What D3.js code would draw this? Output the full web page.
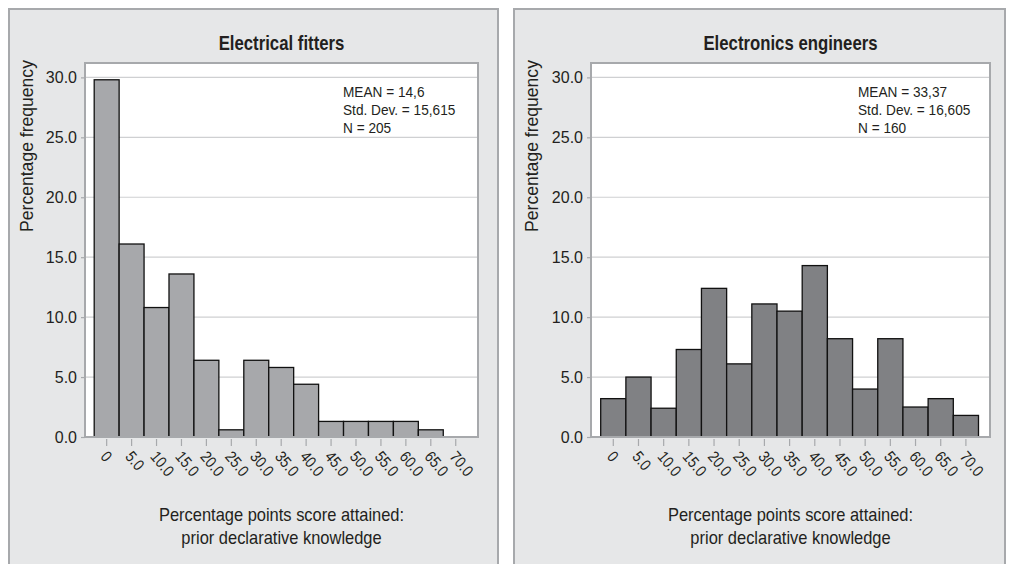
<!DOCTYPE html>
<html>
<head>
<meta charset="utf-8">
<script src="https://cdn.jsdelivr.net/npm/d3@7"></script>
<style>
  html, body { margin: 0; padding: 0; background: #fff; }
  svg { display: block; }
</style>
</head>
<body>
<div id="chart"></div>
<script>
// bins of the score (percentage points)
const binLabels = ["0", "5.0", "10.0", "15.0", "20.0", "25.0", "30.0", "35.0",
  "40.0", "45.0", "50.0", "55.0", "60.0", "65.0", "70.0"];

// percentage frequency per bin
const fittersPct = [29.8, 16.1, 10.8, 13.6, 6.4, 0.6, 6.4, 5.8, 4.4, 1.3, 1.3, 1.3, 1.3, 0.6, 0];
const engineersPct = [3.2, 5.0, 2.4, 7.3, 12.4, 6.1, 11.1, 10.5, 14.3, 8.2, 4.0, 8.2, 2.5, 3.2, 1.8];

const fittersStats = ["MEAN = 14,6", "Std. Dev. = 15,615", "N = 205"];
const engineersStats = ["MEAN = 33,37", "Std. Dev. = 16,605", "N = 160"];

const yTicks = [0, 5, 10, 15, 20, 25, 30];

const W = 1013, H = 564;
const fontFam = "'Liberation Sans', Arial, sans-serif";
const ink = "#231f20";

const svg = d3.select("#chart").append("svg")
  .attr("width", W).attr("height", H)
  .style("font-family", fontFam);

// no condensed font available, so squeeze the glyphs horizontally
function narrowText(g, x, y, str, size, sx, opts = {}) {
  return g.append("text")
    .attr("transform", `translate(${x},${y}) ${opts.rotate ? `rotate(${opts.rotate})` : ""} scale(${sx},1)`)
    .attr("text-anchor", opts.anchor || "start")
    .attr("font-size", size)
    .attr("font-weight", opts.weight || "normal")
    .attr("fill", ink)
    .text(str);
}

function drawPanel(opts) {
  const { box, plot, bandRange, title, values, stats, fill } = opts;
  const g = svg.append("g");

  // panel background
  g.append("rect")
    .attr("x", box.x).attr("y", box.y)
    .attr("width", box.w).attr("height", box.h)
    .attr("fill", "#e6e7e8")
    .attr("stroke", "#a7a9ac")
    .attr("stroke-width", 2);

  // plot area
  g.append("rect")
    .attr("x", plot.x0).attr("y", plot.y0)
    .attr("width", plot.x1 - plot.x0).attr("height", plot.y1 - plot.y0)
    .attr("fill", "#fff");

  const x = d3.scaleBand().domain(binLabels).range(bandRange).padding(0);
  const y = d3.scaleLinear().domain([0, 31.2]).range([plot.y1, plot.y0]);

  // grid
  g.append("g")
    .selectAll("line")
    .data(yTicks.filter(d => d > 0))
    .join("line")
    .attr("x1", plot.x0).attr("x2", plot.x1)
    .attr("y1", d => y(d)).attr("y2", d => y(d))
    .attr("stroke", "#cfd0d2")
    .attr("stroke-width", 1.2);

  // bars
  g.append("g")
    .selectAll("rect")
    .data(values.map((v, i) => ({ bin: binLabels[i], v })).filter(d => d.v > 0))
    .join("rect")
    .attr("x", d => x(d.bin))
    .attr("y", d => y(d.v))
    .attr("width", x.bandwidth())
    .attr("height", d => y(0) - y(d.v))
    .attr("fill", fill)
    .attr("stroke", "#111")
    .attr("stroke-width", 1.3);

  // frame of plot area
  g.append("rect")
    .attr("x", plot.x0).attr("y", plot.y0)
    .attr("width", plot.x1 - plot.x0).attr("height", plot.y1 - plot.y0)
    .attr("fill", "none")
    .attr("stroke", "#a7a9ac")
    .attr("stroke-width", 2);

  // y axis
  const yAxis = g.append("g")
    .attr("transform", `translate(${plot.x0},0)`)
    .call(d3.axisLeft(y).tickValues(yTicks).tickFormat(d3.format(".1f")).tickSize(4).tickPadding(4));
  yAxis.select(".domain").remove();
  yAxis.selectAll(".tick line").attr("stroke", "#a7a9ac").attr("stroke-width", 1.2);
  yAxis.selectAll(".tick text")
    .attr("font-family", fontFam)
    .attr("font-size", 16)
    .attr("fill", ink);

  // x axis
  const xAxis = g.append("g")
    .attr("transform", `translate(0,${plot.y1})`)
    .call(d3.axisBottom(x).tickSize(9).tickPadding(0));
  xAxis.select(".domain").remove();
  xAxis.selectAll(".tick line").attr("stroke", "#a7a9ac").attr("stroke-width", 1.2).attr("y1", 2);
  xAxis.selectAll(".tick text")
    .attr("font-family", fontFam)
    .attr("font-size", 16)
    .attr("fill", ink)
    .attr("text-anchor", "start")
    .attr("dy", null)
    .attr("y", null)
    .attr("transform", "translate(-7,20) rotate(50) scale(0.86,1)");

  const cx = (plot.x0 + plot.x1) / 2;

  // title
  narrowText(g, cx, 50, title, 19.5, 0.86, { anchor: "middle", weight: "bold" });

  // stats
  stats.forEach((s, i) => narrowText(g, opts.statsX, 97 + i * 18.2, s, 15, 0.91));

  // y label
  narrowText(g, box.x + 24, 146, "Percentage frequency", 18.5, 0.95, { anchor: "middle", rotate: -90 });

  // x label
  narrowText(g, cx, 521, "Percentage points score attained:", 18.5, 0.89, { anchor: "middle" });
  narrowText(g, cx, 544, "prior declarative knowledge", 18.5, 0.89, { anchor: "middle" });
}

drawPanel({
  box: { x: 9, y: 9, w: 489, h: 600 },
  plot: { x0: 85, x1: 478, y0: 63, y1: 437 },
  bandRange: [94.2, 468.2],
  title: "Electrical fitters",
  values: fittersPct,
  stats: fittersStats,
  statsX: 343,
  fill: "#a7a8ab"
});

drawPanel({
  box: { x: 514, y: 9, w: 491, h: 600 },
  plot: { x0: 591, x1: 990, y0: 63, y1: 437 },
  bandRange: [600.7, 978.5],
  title: "Electronics engineers",
  values: engineersPct,
  stats: engineersStats,
  statsX: 858,
  fill: "#808184"
});
</script>
</body>
</html>
